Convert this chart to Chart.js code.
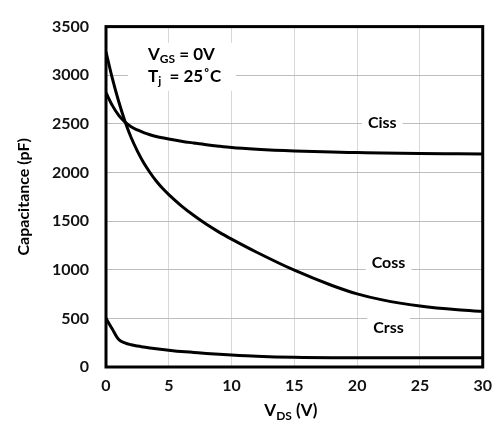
<!DOCTYPE html>
<html>
<head>
<meta charset="utf-8">
<script src="https://cdn.jsdelivr.net/npm/chart.js@4.4.0/dist/chart.umd.min.js"></script>
<style>
  html, body { margin: 0; padding: 0; background: #fff; }
  #wrap { width: 501px; height: 427px; }
</style>
</head>
<body>
<div id="wrap"><canvas id="myChart"></canvas></div>
<script>
// drain-source voltage (V)
var vds  = [0, 0.5, 1, 1.5, 2, 2.5, 3, 3.5, 4, 4.5, 5, 6, 7, 8, 9, 10, 12, 15, 18, 20, 22, 25, 28, 30];
// capacitances (pF)
var ciss = [2820, 2690, 2590, 2520, 2470, 2437, 2410, 2388, 2370, 2357, 2345, 2322, 2303, 2285, 2270, 2257, 2240, 2222, 2210, 2205, 2200, 2195, 2192, 2190];
var coss = [3240, 2970, 2735, 2530, 2360, 2220, 2100, 2000, 1912, 1837, 1772, 1657, 1557, 1467, 1387, 1315, 1180, 995, 838, 752, 690, 627, 588, 572];
var crss = [500, 390, 285, 248, 228, 215, 205, 196, 188, 180, 173, 160, 150, 140, 131, 123, 110, 99, 96, 96, 96, 96, 96, 96];

var xTicks = [0, 5, 10, 15, 20, 25, 30];
var yTicks = [0, 500, 1000, 1500, 2000, 2500, 3000, 3500];

// curve labels, placed in data units
var curveLabels = [
  { text: 'Ciss', x: 22.0, y: 2515 },
  { text: 'Coss', x: 22.5, y: 1070 },
  { text: 'Crss', x: 22.5, y: 400 }
];

var FONT = 'Lato, "Open Sans", sans-serif';

function pts(ys) {
  return vds.map(function (v, i) { return { x: v, y: ys[i] }; });
}

function line(label, ys) {
  return {
    label: label,
    data: pts(ys),
    borderColor: '#000',
    borderWidth: 3,
    pointRadius: 0,
    fill: false,
    cubicInterpolationMode: 'monotone'
  };
}

// draw text with a white box behind it
function boxedText(ctx, text, cx, cy, padX, padY) {
  var w = ctx.measureText(text).width;
  ctx.fillStyle = '#fff';
  ctx.fillRect(cx - w / 2 - padX, cy - 9 - padY, w + 2 * padX, 18 + 2 * padY);
  ctx.fillStyle = '#000';
  ctx.fillText(text, cx, cy);
}

// text with one subscript part: [main, sub, rest]
function subText(ctx, parts, x, y, size) {
  ctx.textAlign = 'left';
  ctx.textBaseline = 'middle';
  ctx.font = 'bold ' + size + 'px ' + FONT;
  ctx.fillText(parts[0], x, y);
  x += ctx.measureText(parts[0]).width;
  ctx.font = 'bold ' + Math.round(size * 0.68) + 'px ' + FONT;
  ctx.fillText(parts[1], x, y + size * 0.28);
  x += ctx.measureText(parts[1]).width;
  ctx.font = 'bold ' + size + 'px ' + FONT;
  ctx.fillText(parts[2], x, y);
  return x + ctx.measureText(parts[2]).width;
}

var extras = {
  id: 'extras',
  afterDatasetsDraw: function (chart) {
    var ctx = chart.ctx, a = chart.chartArea;
    var xs = chart.scales.x, ys = chart.scales.y;
    ctx.save();

    // curve labels
    ctx.font = 'bold 16px ' + FONT;
    ctx.textAlign = 'center';
    ctx.textBaseline = 'middle';
    curveLabels.forEach(function (l) {
      boxedText(ctx, l.text, xs.getPixelForValue(l.x), ys.getPixelForValue(l.y), 6, 4);
    });

    // test conditions
    var tx = xs.getPixelForValue(3.34);
    var y1 = ys.getPixelForValue(3210), y2 = ys.getPixelForValue(2985);
    ctx.fillStyle = '#fff';
    ctx.fillRect(tx - 20, y1 - 12, 108, y2 - y1 + 26);
    ctx.fillStyle = '#000';
    subText(ctx, ['V', 'GS', ' = 0V'], tx, y1, 17);
    subText(ctx, ['T', 'j', '  = 25\u02daC'], tx, y2, 17);

    // plot frame
    ctx.strokeStyle = '#000';
    ctx.lineWidth = 3;
    ctx.strokeRect(a.left, a.top, a.right - a.left, a.bottom - a.top);

    // axis titles
    ctx.fillStyle = '#000';
    ctx.save();
    ctx.translate(24, (a.top + a.bottom) / 2);
    ctx.rotate(-Math.PI / 2);
    ctx.font = 'bold 16px ' + FONT;
    ctx.textAlign = 'center';
    ctx.textBaseline = 'middle';
    ctx.fillText('Capacitance (pF)', 0, 0);
    ctx.restore();

    var cx = (a.left + a.right) / 2 - 30;
    subText(ctx, ['V', 'DS', ' (V)'], cx, 411, 17);
    ctx.restore();
  }
};

var ctx = document.getElementById('myChart').getContext('2d');
var chart = new Chart(ctx, {
  type: 'line',
  data: {
    datasets: [line('Ciss', ciss), line('Coss', coss), line('Crss', crss)]
  },
  options: {
    responsive: true,
    maintainAspectRatio: false,
    animation: false,
    layout: { padding: { top: 18, right: 18, left: 0, bottom: 0 } },
    plugins: {
      legend: { display: false },
      tooltip: { enabled: false }
    },
    scales: {
      x: {
        type: 'linear',
        min: 0,
        max: 30,
        afterBuildTicks: function (s) { s.ticks = xTicks.map(function (v) { return { value: v }; }); },
        afterFit: function (s) { s.height = 60; },
        grid: { color: '#d8d8d8', lineWidth: 1, drawTicks: false },
        border: { display: false },
        ticks: {
          padding: 9,
          color: '#111',
          font: { family: FONT, size: 16, weight: 'bold' },
          maxRotation: 0,
          callback: function (v) { return String(v); }
        }
      },
      y: {
        min: 0,
        max: 3500,
        afterBuildTicks: function (s) { s.ticks = yTicks.map(function (v) { return { value: v }; }); },
        afterFit: function (s) { s.width = 106; },
        grid: { color: '#bdbdbd', lineWidth: 1, drawTicks: false },
        border: { display: false },
        ticks: {
          padding: 17,
          color: '#111',
          font: { family: FONT, size: 16, weight: 'bold' },
          callback: function (v) { return String(v); }
        }
      }
    }
  },
  plugins: [extras]
});
</script>
</body>
</html>
